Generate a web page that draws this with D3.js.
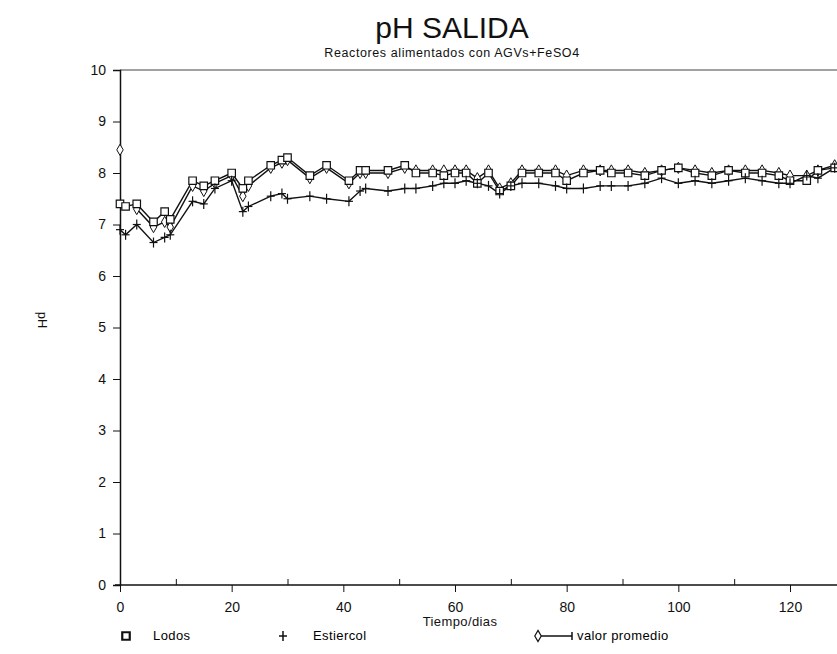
<!DOCTYPE html>
<html>
<head>
<meta charset="utf-8">
<script src="https://cdn.jsdelivr.net/npm/d3@7"></script>
<style>
  body { margin: 0; background: #fff; }
  svg { display: block; font-family: "Liberation Sans", Arial, sans-serif; }
  .axis path, .axis line { stroke: #111; }
  .axis text { font-size: 14px; fill: #111; }
</style>
</head>
<body>
<svg id="chart" width="837" height="654"></svg>
<script>
// ── DATA ───────────────────────────────────────────────────────────────────
const dias = [0, 1, 3, 6, 8, 9, 13, 15, 17, 20, 22, 23, 27, 29, 30, 34, 37, 41, 43, 44, 48,
  51, 53, 56, 58, 60, 62, 64, 66, 68, 70, 72, 75, 78, 80, 83, 86, 88, 91, 94, 97,
  100, 103, 106, 109, 112, 115, 118, 120, 123, 125, 128];

const lodos = [7.4, 7.35, 7.4, 7.05, 7.25, 7.1, 7.85, 7.75, 7.85, 8.0, 7.7, 7.85, 8.15, 8.25, 8.3, 7.95, 8.15, 7.85, 8.05, 8.05, 8.05,
  8.15, 8.0, 8.0, 7.95, 8.0, 8.0, 7.8, 8.0, 7.65, 7.75, 8.0, 8.0, 8.0, 7.85, 8.0, 8.05, 8.0, 8.0, 7.95, 8.05,
  8.1, 8.0, 7.95, 8.05, 8.0, 8.0, 7.95, 7.85, 7.85, 8.05, 8.1];

const estiercol = [6.9, 6.8, 7.0, 6.65, 6.75, 6.8, 7.45, 7.4, 7.7, 7.85, 7.25, 7.35, 7.55, 7.6, 7.5, 7.55, 7.5, 7.45, 7.65, 7.7, 7.65,
  7.7, 7.7, 7.75, 7.8, 7.8, 7.85, 7.8, 7.75, 7.6, 7.75, 7.8, 7.8, 7.75, 7.7, 7.7, 7.75, 7.75, 7.75, 7.8, 7.9,
  7.8, 7.85, 7.8, 7.85, 7.9, 7.85, 7.8, 7.8, 7.95, 7.9, 8.1];

const promedio = [8.45, null, 7.3, 6.95, 7.05, 6.95, 7.75, 7.65, 7.8, 7.95, 7.55, 7.75, 8.1, 8.2, 8.25, 7.9, 8.1, 7.8, 8.0, 8.0, 8.0,
  8.1, 8.05, 8.05, 8.05, 8.05, 8.05, 7.9, 8.05, 7.7, 7.8, 8.05, 8.05, 8.05, 7.95, 8.05, 8.05, 8.05, 8.05, 8.0, 8.05,
  8.1, 8.05, 8.0, 8.05, 8.05, 8.05, 8.0, 7.95, 7.95, 8.05, 8.15];

const xTicks = [0, 10, 20, 30, 40, 50, 60, 70, 80, 90, 100, 110, 120];
const yTicks = [0, 1, 2, 3, 4, 5, 6, 7, 8, 9, 10];

// ── SCALES ─────────────────────────────────────────────────────────────────
const svg = d3.select('#chart');
const x = d3.scaleLinear().domain([0, 120]).range([120, 790]);
const y = d3.scaleLinear().domain([0, 10]).range([585, 70]);

// frame: top line and axes running off the right edge
svg.append('line').attr('x1', 120).attr('x2', 837).attr('y1', y(10)).attr('y2', y(10))
  .attr('stroke', '#444').attr('stroke-width', 1.2);

const yAxis = svg.append('g').attr('class', 'axis')
  .attr('transform', `translate(${x(0)},0)`)
  .call(d3.axisLeft(y).tickValues(yTicks).tickSize(7).tickPadding(7).tickFormat(d3.format('d')));
yAxis.select('.domain').attr('stroke-width', 1.5);

const xAxis = svg.append('g').attr('class', 'axis')
  .attr('transform', `translate(0,${y(0)})`)
  .call(d3.axisBottom(x).tickValues(xTicks).tickSize(6).tickPadding(11)
    .tickFormat(d => d % 20 === 0 ? d : ''));
xAxis.select('.domain').attr('d', `M${x(0) - 5},0H837`).attr('stroke-width', 1.5);
xAxis.selectAll('.tick line').attr('y1', d => d % 20 === 0 ? 0 : -6).attr('y2', d => d % 20 === 0 ? 7 : 0);

// ── LINES ──────────────────────────────────────────────────────────────────
function drawSeries(vals) {
  const pts = dias.map((d, i) => [d, vals[i]]);
  svg.append('path')
    .datum(pts)
    .attr('fill', 'none').attr('stroke', '#111').attr('stroke-width', 1.4)
    .attr('d', d3.line().defined(p => p[1] != null).x(p => x(p[0])).y(p => y(p[1])));
  return pts.filter(p => p[1] != null);
}

const ptsProm = drawSeries(promedio);
const ptsLod = drawSeries(lodos);
const ptsEst = drawSeries(estiercol);

const sq = d3.symbol().type(d3.symbolSquare).size(56);
const dia = d3.symbol().type(d3.symbolDiamond).size(36);

svg.append('g').selectAll('path').data(ptsProm).join('path')
  .attr('transform', p => `translate(${x(p[0])},${y(p[1])})`)
  .attr('d', dia).attr('fill', '#fff').attr('stroke', '#111').attr('stroke-width', 1);
svg.append('g').selectAll('path').data(ptsLod).join('path')
  .attr('transform', p => `translate(${x(p[0])},${y(p[1])})`)
  .attr('d', sq).attr('fill', '#fff').attr('stroke', '#111').attr('stroke-width', 1.2);
svg.append('g').selectAll('g').data(ptsEst).join('g')
  .attr('transform', p => `translate(${x(p[0])},${y(p[1])})`)
  .call(g => {
    g.append('line').attr('x1', -4).attr('x2', 4).attr('stroke', '#111').attr('stroke-width', 1.2);
    g.append('line').attr('y1', -5).attr('y2', 5).attr('stroke', '#111').attr('stroke-width', 1.2);
  });

// ── TEXTS ──────────────────────────────────────────────────────────────────
svg.append('text').attr('x', 452).attr('y', 38).attr('text-anchor', 'middle')
  .attr('font-size', 30).attr('fill', '#111').text('pH SALIDA');
svg.append('text').attr('x', 452).attr('y', 57).attr('text-anchor', 'middle')
  .attr('font-size', 12.5).attr('letter-spacing', 0.6).attr('fill', '#111')
  .text('Reactores alimentados con AGVs+FeSO4');
svg.append('text').attr('x', 460).attr('y', 626).attr('text-anchor', 'middle')
  .attr('font-size', 13).attr('letter-spacing', 0.4).attr('fill', '#111').text('Tiempo/dias');
svg.append('text').attr('transform', 'translate(38,320) rotate(90)').attr('text-anchor', 'middle')
  .attr('font-size', 13).attr('fill', '#111').text('pH');

// ── LEGEND ─────────────────────────────────────────────────────────────────
const ly = 640;
svg.append('path').attr('transform', `translate(126,${ly - 4})`).attr('d', sq)
  .attr('fill', '#fff').attr('stroke', '#111').attr('stroke-width', 2.2);
svg.append('text').attr('x', 153).attr('y', ly).attr('font-size', 13).attr('letter-spacing', 0.4).text('Lodos');
svg.append('g').attr('transform', `translate(283,${ly - 4})`).call(g => {
  g.append('line').attr('x1', -4).attr('x2', 4).attr('stroke', '#111').attr('stroke-width', 1.5);
  g.append('line').attr('y1', -5).attr('y2', 5).attr('stroke', '#111').attr('stroke-width', 1.5);
});
svg.append('text').attr('x', 313).attr('y', ly).attr('font-size', 13).attr('letter-spacing', 0.4).text('Estiercol');
svg.append('line').attr('x1', 538).attr('x2', 572).attr('y1', ly - 4).attr('y2', ly - 4)
  .attr('stroke', '#111').attr('stroke-width', 1.5);
svg.append('line').attr('x1', 572).attr('x2', 572).attr('y1', ly - 8).attr('y2', ly)
  .attr('stroke', '#111').attr('stroke-width', 1.5);
svg.append('path').attr('transform', `translate(538,${ly - 4})`).attr('d', dia)
  .attr('fill', '#fff').attr('stroke', '#111').attr('stroke-width', 1.2);
svg.append('text').attr('x', 577).attr('y', ly).attr('font-size', 13).attr('letter-spacing', 0.4).text('valor promedio');
</script>
</body>
</html>
